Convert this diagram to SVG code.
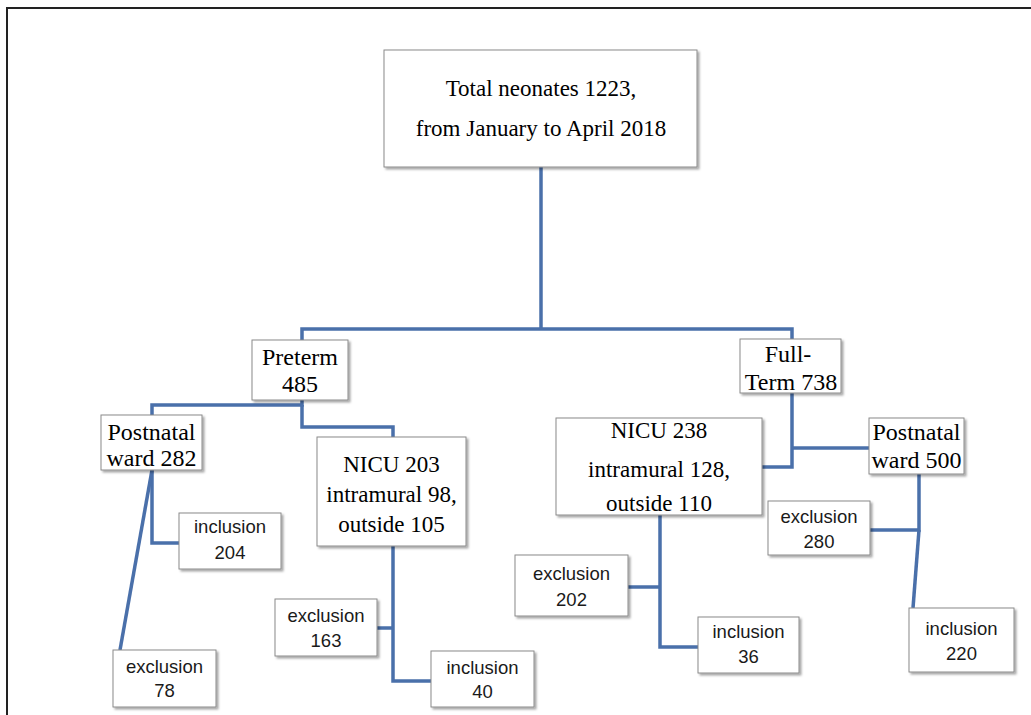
<svg xmlns="http://www.w3.org/2000/svg" width="1031" height="715" viewBox="0 0 1031 715">
<defs>
<filter id="sh" x="-10%" y="-10%" width="125%" height="130%">
<feDropShadow dx="2" dy="2" stdDeviation="1.3" flood-color="#000" flood-opacity="0.35"/>
</filter>
<style>
.box{fill:#fff;stroke:#8a8a8a;stroke-width:1;filter:url(#sh)}
.sf{font-family:"Liberation Serif","Times New Roman",serif;font-size:23px;fill:#000;text-anchor:middle}
.sb{font-size:24px}
.ss{font-family:"Liberation Sans",Arial,sans-serif;font-size:18.5px;fill:#1a1a1a;text-anchor:middle}
.c{fill:none;stroke:#4a70aa;stroke-width:3.5;stroke-linejoin:miter}
</style>
</defs>
<rect width="1031" height="715" fill="#fff"/>
<path d="M7,715 V8 H1031" fill="none" stroke="#222" stroke-width="2"/>
<g id="connectors">
<path class="c" d="M541,167 V329"/>
<path class="c" d="M302,340 V329 H792 V339"/>
<path class="c" d="M302,400 V405 H152 V415"/>
<path class="c" d="M302,405 V427 H393 V437"/>
<path class="c" d="M152,470 V543 H179"/>
<path class="c" d="M152,470 L120,650"/>
<path class="c" d="M393,546 V681 H431"/>
<path class="c" d="M377,628 H393"/>
<path class="c" d="M792,393 V467 H762"/>
<path class="c" d="M792,448 H869"/>
<path class="c" d="M660,515 V647 H698"/>
<path class="c" d="M628,587 H660"/>
<path class="c" d="M919,474 V530 H870"/>
<path class="c" d="M919,530 L913,608"/>
</g>
<g id="total">
<rect class="box" x="384" y="50" width="313" height="117"/>
<text class="sf" x="541" y="96">Total neonates 1223,</text>
<text class="sf" x="541" y="136">from January to April 2018</text>
</g>
<g id="preterm">
<rect class="box" x="252" y="340" width="96" height="60"/>
<text class="sf sb" x="300" y="365">Preterm</text>
<text class="sf sb" x="300" y="392">485</text>
</g>
<g id="fullterm">
<rect class="box" x="740" y="339" width="101" height="54"/>
<text class="sf sb" x="788" y="362">Full-</text>
<text class="sf sb" x="791" y="390">Term 738</text>
</g>
<g id="postnatal282">
<rect class="box" x="101" y="415" width="101" height="55"/>
<text class="sf sb" x="151.5" y="440">Postnatal</text>
<text class="sf sb" x="151.5" y="466">ward 282</text>
</g>
<g id="nicu203">
<rect class="box" x="317" y="437" width="149" height="109"/>
<text class="sf" x="391.5" y="472">NICU 203</text>
<text class="sf" x="391.5" y="502">intramural 98,</text>
<text class="sf" x="391.5" y="532">outside 105</text>
</g>
<g id="nicu238">
<rect class="box" x="556" y="418" width="206" height="97"/>
<text class="sf" x="659" y="438">NICU 238</text>
<text class="sf" x="659" y="477">intramural 128,</text>
<text class="sf" x="659" y="511">outside 110</text>
</g>
<g id="postnatal500">
<rect class="box" x="869" y="418" width="95" height="56"/>
<text class="sf sb" x="916.5" y="440">Postnatal</text>
<text class="sf sb" x="916.5" y="468">ward 500</text>
</g>
<g id="inclusion204">
<rect class="box" x="179" y="513" width="102" height="56"/>
<text class="ss" x="230" y="533">inclusion</text>
<text class="ss" x="230" y="559">204</text>
</g>
<g id="exclusion78">
<rect class="box" x="113" y="650" width="103" height="57"/>
<text class="ss" x="164.5" y="673">exclusion</text>
<text class="ss" x="164.5" y="697">78</text>
</g>
<g id="exclusion163">
<rect class="box" x="275" y="599" width="102" height="57"/>
<text class="ss" x="326" y="622">exclusion</text>
<text class="ss" x="326" y="647">163</text>
</g>
<g id="inclusion40">
<rect class="box" x="431" y="651" width="103" height="56"/>
<text class="ss" x="482.5" y="674">inclusion</text>
<text class="ss" x="482.5" y="698">40</text>
</g>
<g id="exclusion202">
<rect class="box" x="515" y="555" width="113" height="61"/>
<text class="ss" x="571.5" y="580">exclusion</text>
<text class="ss" x="571.5" y="606">202</text>
</g>
<g id="inclusion36">
<rect class="box" x="698" y="617" width="101" height="56"/>
<text class="ss" x="748.5" y="638">inclusion</text>
<text class="ss" x="748.5" y="663">36</text>
</g>
<g id="exclusion280">
<rect class="box" x="768" y="501" width="102" height="54"/>
<text class="ss" x="819" y="523">exclusion</text>
<text class="ss" x="819" y="548">280</text>
</g>
<g id="inclusion220">
<rect class="box" x="909" y="608" width="105" height="64"/>
<text class="ss" x="961.5" y="635">inclusion</text>
<text class="ss" x="961.5" y="660">220</text>
</g>
</svg>
